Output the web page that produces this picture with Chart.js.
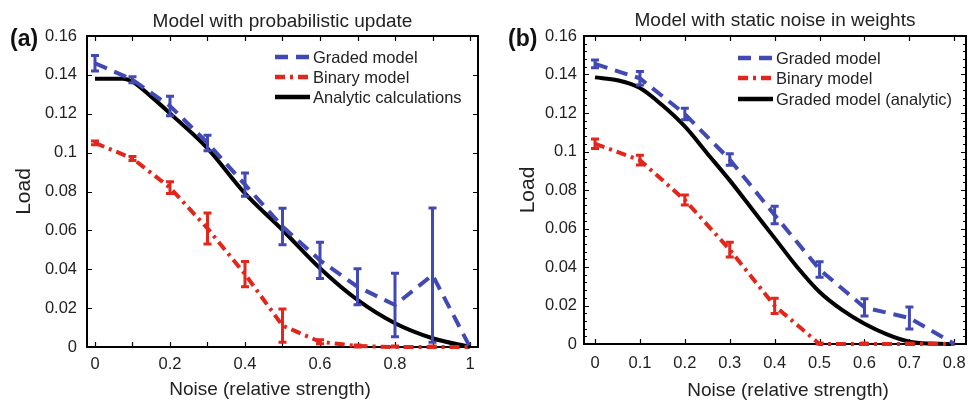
<!DOCTYPE html>
<html>
<head>
<meta charset="utf-8">
<script src="https://cdn.jsdelivr.net/npm/chart.js@4.4.1/dist/chart.umd.min.js"></script>
<style>
  html, body { margin: 0; padding: 0; background: #fff; }
  #wrap { position: relative; width: 978px; height: 404px; }
  canvas { position: absolute; top: 0; }
</style>
</head>
<body>
<div id="wrap">
  <canvas id="chartA" width="490" height="404" style="left:0"></canvas>
  <canvas id="chartB" width="488" height="404" style="left:490px"></canvas>
</div>
<script>
/* ---------- panel (a): probabilistic update ---------- */
const noiseA      = [0, 0.1, 0.2, 0.3, 0.4, 0.5, 0.6, 0.7, 0.8, 0.9, 1.0];
const gradedA     = [0.146, 0.1375, 0.124, 0.105, 0.0835, 0.062, 0.0446, 0.031, 0.0216, 0.037, 0];
const gradedErrA  = [0.004, 0.0015, 0.005, 0.004, 0.006, 0.0094, 0.0093, 0.0092, 0.0163, 0.0345, 0];
const binaryA     = [0.105, 0.097, 0.082, 0.061, 0.0375, 0.011, 0.0027, 0.0005, 0, 0, 0];
const binaryErrA  = [0.001, 0.001, 0.003, 0.008, 0.0065, 0.0085, 0.001, 0.0005, 0.0005, 0.0005, 0];
const analyticXA  = [0, 0.075, 0.1, 0.15, 0.2, 0.3, 0.4, 0.5, 0.6, 0.7, 0.8, 0.9, 1.0];
const analyticA   = [0.138, 0.138, 0.1365, 0.1288, 0.1202, 0.1022, 0.079, 0.0602, 0.0405, 0.0242, 0.0122, 0.0045, 0];
const xTicksA     = [0, 0.2, 0.4, 0.6, 0.8, 1];
const xMarksA     = [0, 0.1, 0.2, 0.3, 0.4, 0.5, 0.6, 0.7, 0.8, 0.9, 1.0];

/* ---------- panel (b): static noise in weights ---------- */
const noiseB      = [0, 0.1, 0.2, 0.3, 0.4, 0.5, 0.6, 0.7, 0.8];
const gradedB     = [0.1455, 0.138, 0.1195, 0.0958, 0.067, 0.0387, 0.019, 0.0135, 0];
const gradedErrB  = [0.002, 0.0035, 0.003, 0.003, 0.0045, 0.004, 0.0045, 0.0057, 0];
const binaryB     = [0.104, 0.0955, 0.0748, 0.049, 0.0198, 0, 0, 0, 0];
const binaryErrB  = [0.0025, 0.0025, 0.0026, 0.0038, 0.004, 0.0005, 0.0005, 0.0005, 0];
const analyticXB  = [0, 0.05, 0.1, 0.15, 0.2, 0.25, 0.3, 0.35, 0.4, 0.45, 0.5, 0.55, 0.6, 0.65, 0.7, 0.75, 0.8];
const analyticB   = [0.1385, 0.137, 0.133, 0.124, 0.113, 0.099, 0.085, 0.070, 0.055, 0.040, 0.027, 0.0177, 0.0105, 0.005, 0.0012, 0.0002, 0];
const xTicksB     = [0, 0.1, 0.2, 0.3, 0.4, 0.5, 0.6, 0.7, 0.8];

const yTicks      = [0, 0.02, 0.04, 0.06, 0.08, 0.1, 0.12, 0.14, 0.16];

const BLUE = '#4149b4', RED = '#e2261c', BLACK = '#000';
const FONT = '"Liberation Sans", Arial, Helvetica, sans-serif';
const pts = (xs, ys) => xs.map((x, i) => ({ x, y: ys[i] }));
const fmtTick = v => String(+Number(v).toFixed(3));

/* per panel extras: text, legend place, tick marks */
const extras = {
  chartA: {
    title: 'Model with probabilistic update', titleY: 27,
    tag: '(a)', tagX: 10, tagY: 46,
    yTitleX: 24, xTitleX: 270, xTitleY: 395,
    legX: 275, legY: [57, 77, 97],
    xMarks: xMarksA, minorY: false
  },
  chartB: {
    title: 'Model with static noise in weights', titleY: 26,
    tag: '(b)', tagX: 18, tagY: 46,
    yTitleX: 38, xTitleX: 298, xTitleY: 396,
    legX: 248, legY: [58, 78, 99],
    xMarks: xTicksB, minorY: true
  }
};

const frame = {
  id: 'frame',
  beforeDatasetsDraw(chart) {
    const e = extras[chart.canvas.id];
    const { ctx, chartArea: a, scales: { x, y } } = chart;
    ctx.save();
    ctx.strokeStyle = '#000';
    ctx.lineWidth = 1.2;
    ctx.beginPath();
    e.xMarks.forEach(v => {
      const px = Math.round(x.getPixelForValue(v)) + 0.5;
      ctx.moveTo(px, a.bottom); ctx.lineTo(px, a.bottom - 5);
      ctx.moveTo(px, a.top); ctx.lineTo(px, a.top + 5);
    });
    yTicks.forEach(v => {
      const py = Math.round(y.getPixelForValue(v)) + 0.5;
      ctx.moveTo(a.left, py); ctx.lineTo(a.left + 5, py);
      ctx.moveTo(a.right, py); ctx.lineTo(a.right - 5, py);
    });
    if (e.minorY) {
      for (let k = 0; k <= 40; k++) {
        const py = Math.round(y.getPixelForValue(k * 0.004)) + 0.5;
        ctx.moveTo(a.left, py); ctx.lineTo(a.left + 3, py);
        ctx.moveTo(a.right, py); ctx.lineTo(a.right - 3, py);
      }
    }
    ctx.stroke();
    ctx.lineWidth = 2;
    ctx.strokeRect(a.left, a.top, a.right - a.left, a.bottom - a.top);
    ctx.restore();
  },
  afterDatasetsDraw(chart) {
    const { ctx, scales: { x, y } } = chart;
    ctx.save();
    chart.data.datasets.forEach(ds => {
      if (!ds.errors) return;
      ctx.strokeStyle = ds.borderColor;
      ctx.lineCap = 'butt';
      ds.data.forEach((p, i) => {
        const err = ds.errors[i];
        if (!err) return;
        const px = x.getPixelForValue(p.x);
        const y1 = y.getPixelForValue(p.y + err);
        const y2 = y.getPixelForValue(Math.max(0, p.y - err));
        ctx.lineWidth = 3;
        ctx.beginPath();
        ctx.moveTo(px, y1); ctx.lineTo(px, y2);
        ctx.moveTo(px - 4, y1); ctx.lineTo(px + 4, y1);
        ctx.moveTo(px - 4, y2); ctx.lineTo(px + 4, y2);
        ctx.stroke();
      });
    });
    ctx.restore();
  },
  afterDraw(chart) {
    const e = extras[chart.canvas.id];
    const { ctx, chartArea: a } = chart;
    ctx.save();
    ctx.fillStyle = '#222';
    ctx.textBaseline = 'alphabetic';
    ctx.textAlign = 'center';
    ctx.font = '19px ' + FONT;
    ctx.fillText(e.title, (a.left + a.right) / 2, e.titleY);
    ctx.fillText('Noise (relative strength)', e.xTitleX, e.xTitleY);
    ctx.save();
    ctx.translate(e.yTitleX, (a.top + a.bottom) / 2);
    ctx.rotate(-Math.PI / 2);
    ctx.textBaseline = 'middle';
    ctx.font = '21px ' + FONT;
    ctx.fillText('Load', 0, 0);
    ctx.restore();
    ctx.textAlign = 'left';
    ctx.fillStyle = '#111';
    ctx.font = 'bold 23px ' + FONT;
    ctx.fillText(e.tag, e.tagX, e.tagY);

    // legend
    ctx.font = '16.5px ' + FONT;
    ctx.textBaseline = 'middle';
    chart.data.datasets.forEach((ds, i) => {
      const ly = e.legY[i];
      ctx.strokeStyle = ds.borderColor;
      ctx.lineWidth = 4.5;
      ctx.setLineDash(ds.borderDash || []);
      ctx.beginPath();
      ctx.moveTo(e.legX, ly); ctx.lineTo(e.legX + 35, ly);
      ctx.stroke();
      ctx.setLineDash([]);
      ctx.fillStyle = '#222';
      ctx.fillText(ds.label, e.legX + 38, ly + 1);
    });
    ctx.restore();
  }
};

function makeChart(id, cfg) {
  return new Chart(document.getElementById(id), {
    type: 'line',
    data: {
      datasets: [
        { label: 'Graded model', data: pts(cfg.noise, cfg.graded), errors: cfg.gradedErr,
          borderColor: BLUE, borderWidth: 4, borderDash: [13, 8], pointRadius: 0, tension: 0, clip: 6 },
        { label: 'Binary model', data: pts(cfg.noise, cfg.binary), errors: cfg.binaryErr,
          borderColor: RED, borderWidth: 4, borderDash: [10, 5, 3, 5], pointRadius: 0, tension: 0, clip: 6 },
        { label: cfg.analyticLabel, data: pts(cfg.analyticX, cfg.analytic),
          borderColor: BLACK, borderWidth: 4, pointRadius: 0, cubicInterpolationMode: 'monotone', clip: 6 }
      ]
    },
    options: {
      responsive: false,
      animation: false,
      layout: { padding: { left: 0, top: 36, right: 12, bottom: 0 } },
      plugins: { legend: { display: false }, tooltip: { enabled: false } },
      scales: {
        x: {
          type: 'linear', min: cfg.xMin, max: cfg.xMax,
          grid: { display: false, drawTicks: false }, border: { display: false },
          afterFit: s => { s.height = cfg.xAxisH; },
          afterBuildTicks: s => { s.ticks = cfg.xTicks.map(v => ({ value: v })); },
          ticks: { color: '#222', padding: cfg.xPad, maxRotation: 0, autoSkip: false,
                   font: { family: FONT, size: 16.5 }, callback: fmtTick }
        },
        y: {
          type: 'linear', min: 0, max: 0.16,
          grid: { display: false, drawTicks: false }, border: { display: false },
          afterFit: s => { s.width = cfg.yAxisW; },
          afterBuildTicks: s => { s.ticks = yTicks.map(v => ({ value: v })); },
          ticks: { color: '#222', padding: cfg.yPad, autoSkip: false,
                   font: { family: FONT, size: 16.5 }, callback: fmtTick }
        }
      }
    },
    plugins: [frame]
  });
}

makeChart('chartA', {
  noise: noiseA, graded: gradedA, gradedErr: gradedErrA, binary: binaryA, binaryErr: binaryErrA,
  analyticX: analyticXA, analytic: analyticA, analyticLabel: 'Analytic calculations',
  xMin: -0.0213, xMax: 1.0213, xTicks: xTicksA, xAxisH: 404 - 347, yAxisW: 87, xPad: 8, yPad: 10
});
makeChart('chartB', {
  noise: noiseB, graded: gradedB, gradedErr: gradedErrB, binary: binaryB, binaryErr: binaryErrB,
  analyticX: analyticXB, analytic: analyticB, analyticLabel: 'Graded model (analytic)',
  xMin: -0.0245, xMax: 0.826, xTicks: xTicksB, xAxisH: 404 - 344, yAxisW: 94, xPad: 10, yPad: 7
});
</script>
</body>
</html>
